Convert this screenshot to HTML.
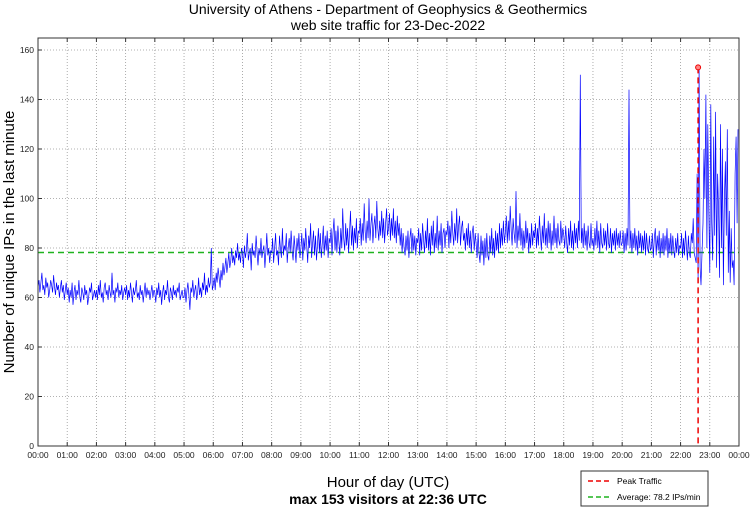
<!DOCTYPE html>
<html><head><meta charset="utf-8"><style>
body{margin:0;background:#fff;}
svg{display:block;font-family:"Liberation Sans",sans-serif;}
</style></head><body>
<svg id="c" width="750" height="511"></svg>
<script>
const hourLabels=["00:00","01:00","02:00","03:00","04:00","05:00","06:00","07:00","08:00","09:00","10:00","11:00","12:00","13:00","14:00","15:00","16:00","17:00","18:00","19:00","20:00","21:00","22:00","23:00","00:00"];
const yTicks=[0,20,40,60,80,100,120,140,160];
const average=78.2;
const peakValue=153;
const peakMinute=1356;
// visitors per 2-minute step
const visitors=[
64,67,62,66,70,63,65,61,68,64,66,60,63,67,65,62,69,64,61,66,63,65,60,64,67,62,65,59,63,66,
61,64,58,63,60,66,57,62,65,59,63,61,67,60,58,64,62,59,65,61,63,57,60,64,62,66,59,61,63,60,
63,59,65,61,67,60,62,58,64,66,61,63,59,65,62,60,70,61,63,58,64,62,66,60,63,61,65,59,62,64,
61,65,59,63,60,66,62,58,64,61,63,67,60,62,59,65,61,63,58,62,66,60,64,61,63,59,62,65,60,63,
62,58,64,61,66,60,63,57,62,65,59,63,61,67,60,58,64,62,59,65,61,63,60,64,62,66,59,61,63,60,
60,64,58,63,66,61,55,64,62,67,60,63,65,59,62,68,61,64,60,66,63,70,61,65,62,68,64,66,80,63,
65,68,63,70,66,72,68,64,71,67,74,69,72,76,70,74,78,72,75,80,74,77,73,79,76,82,75,78,74,80,
78,72,81,76,79,86,75,78,80,71,82,77,79,76,85,78,73,80,77,84,76,79,81,72,78,86,77,80,74,79,
78,84,74,80,86,77,79,73,85,80,76,88,77,81,79,86,74,80,84,78,87,79,75,85,80,74,84,79,86,76,
80,86,75,84,79,88,81,74,85,80,90,76,82,87,77,85,75,81,88,78,86,76,82,89,77,85,79,87,76,84,
82,88,77,86,92,79,87,78,89,83,77,88,80,96,84,79,90,81,88,78,87,95,81,89,79,88,82,92,80,87,
86,92,81,90,83,98,87,82,91,84,100,83,90,94,82,89,93,84,99,88,83,91,85,95,84,92,82,90,96,85,
88,94,83,92,85,96,84,91,82,93,85,90,81,88,78,86,80,77,85,79,87,76,84,88,78,86,79,85,77,84,
82,88,77,86,79,90,83,78,87,80,92,79,86,77,89,81,91,78,86,80,93,79,87,81,90,78,86,88,80,87,
85,91,80,89,82,95,86,81,90,83,96,82,89,93,81,88,91,83,86,79,88,81,90,80,87,78,86,89,79,86,
82,76,86,78,74,85,77,83,73,84,76,86,77,75,85,78,88,77,84,76,87,79,86,78,90,80,88,81,91,82,
86,93,82,91,83,97,87,81,92,86,82,103,80,89,83,94,81,88,79,87,80,91,82,88,78,86,80,90,81,87,
84,90,80,88,81,93,85,79,89,82,94,81,88,80,91,82,90,79,87,81,93,82,88,80,90,83,81,91,82,88,
85,80,89,82,78,88,81,91,80,87,79,90,82,88,80,91,83,150,82,88,80,90,81,87,79,89,82,80,90,81,
84,79,88,81,91,80,87,78,90,82,80,88,81,87,79,90,82,80,88,78,86,81,87,79,88,81,86,80,87,81,
82,87,78,86,79,88,81,144,80,87,78,86,80,88,79,85,77,87,80,86,78,85,79,87,77,86,80,78,85,79,
80,86,76,84,88,77,85,79,87,76,84,78,86,77,85,79,88,76,84,78,86,77,85,79,76,84,78,86,77,81,
80,86,76,84,77,87,81,75,85,78,76,86,82,92,78,76,74,110,68,153,72,65,78,90,120,100,142,80,130,95,
70,138,90,75,125,85,135,72,110,95,68,130,80,120,65,100,115,85,128,70,95,66,88,72,75,65,110,125,90,128
];
const NS="http://www.w3.org/2000/svg";
const svg=document.getElementById('c');
const L=38,R=739,T=38,B=446;
const xm=m=>L+(R-L)*m/1440;
const yv=v=>B-(v/160)*(446-50);
function el(tag,attrs,parent){const e=document.createElementNS(NS,tag);for(const k in attrs)e.setAttribute(k,attrs[k]);(parent||svg).appendChild(e);return e;}
function txt(s,attrs){const e=el('text',attrs);e.textContent=s;return e;}
const grid=el('g',{});


hourLabels.forEach((h,i)=>{if(i>0&&i<24){const x=xm(i*60);el('line',{x1:x,x2:x,y1:T,y2:B,stroke:'#999','stroke-width':0.8,'stroke-dasharray':'1,2'},grid);}});
yTicks.forEach(v=>{if(v>0){const y=yv(v);el('line',{x1:L,x2:R,y1:y,y2:y,stroke:'#999','stroke-width':0.8,'stroke-dasharray':'1,2'},grid);}});
const avg=el('line',{x1:L,x2:R,y1:yv(average),y2:yv(average),stroke:'#1fb31f','stroke-width':1.5,'stroke-dasharray':'6,4'});


let d='';visitors.forEach((v,i)=>{d+=(i?'L':'M')+xm(i*2).toFixed(1)+','+yv(v).toFixed(1);});
const line=el('path',{d:d,fill:'none',stroke:'#0000ff','stroke-width':0.7});


const pk=el('line',{x1:xm(peakMinute),x2:xm(peakMinute),y1:yv(peakValue),y2:B,stroke:'#e00','stroke-width':1.5,'stroke-dasharray':'6,4'});


const pm=el('circle',{cx:xm(peakMinute),cy:yv(peakValue),r:2.5,fill:'#f88',stroke:'#e00','stroke-width':1});


const box=el('rect',{x:L,y:T,width:R-L,height:B-T,fill:'none',stroke:'#333','stroke-width':1});


hourLabels.forEach((h,i)=>{const x=xm(i*60);
el('line',{x1:x,x2:x,y1:B,y2:B-4,stroke:'#333'});el('line',{x1:x,x2:x,y1:T,y2:T+4,stroke:'#333'});
const t=txt(h,{x:x,y:B+12,'font-size':8.5,'text-anchor':'middle',fill:'#222'});

});
yTicks.forEach(v=>{const y=yv(v);el('line',{x1:L,x2:L+4,y1:y,y2:y,stroke:'#333'});
const t=txt(String(v),{x:L-4,y:y+3,'font-size':8.5,'text-anchor':'end',fill:'#222'});

});
let t=txt('University of Athens - Department of Geophysics & Geothermics',{x:388,y:14,'font-size':14,'text-anchor':'middle'});


t=txt('web site traffic for 23-Dec-2022',{x:388,y:30,'font-size':14,'text-anchor':'middle'});


t=txt('Number of unique IPs in the last minute',{x:0,y:0,'font-size':15,'text-anchor':'middle',transform:'translate(14,242) rotate(-90)'});


t=txt('Hour of day (UTC)',{x:388,y:487,'font-size':15,'text-anchor':'middle'});


t=txt('max 153 visitors at 22:36 UTC',{x:388,y:504,'font-size':14,'font-weight':'bold','text-anchor':'middle'});


const lg=el('g',{});


el('rect',{x:581,y:471,width:127,height:35,fill:'#fff',stroke:'#333'},lg);
el('line',{x1:588,x2:612,y1:481,y2:481,stroke:'#e00','stroke-width':1.5,'stroke-dasharray':'5,3'},lg);
el('line',{x1:588,x2:612,y1:497,y2:497,stroke:'#1fb31f','stroke-width':1.5,'stroke-dasharray':'5,3'},lg);
let lt=el('text',{x:617,y:484,'font-size':8.5},lg);lt.textContent='Peak Traffic';


lt=el('text',{x:617,y:500,'font-size':8.5},lg);lt.textContent='Average: 78.2 IPs/min';


</script>
</body></html>
